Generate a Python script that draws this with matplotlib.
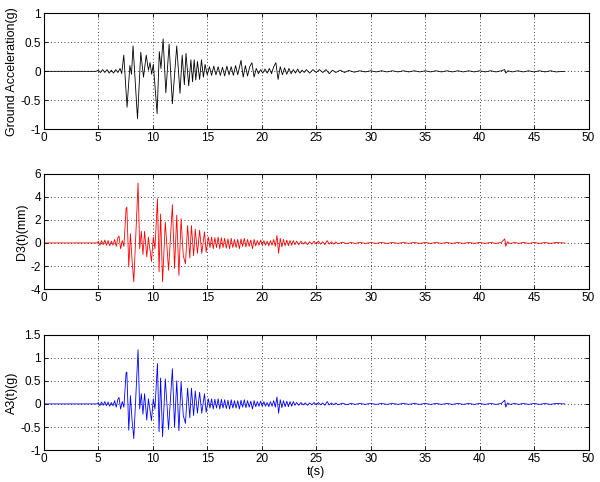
import numpy as np
import matplotlib.pyplot as plt

plt.rcParams['font.family'] = ['Liberation Sans', 'DejaVu Sans']

# peaks: (time s, value)
ground_peaks = [
    (0, 0), (4.8, 0), (5.0, 0.02), (5.2, -0.02), (5.4, 0.03), (5.6, -0.02),
    (5.8, 0.03), (6.0, -0.03), (6.2, 0.02), (6.4, -0.03), (6.6, 0.03),
    (6.8, -0.02), (7.0, 0.05), (7.15, -0.04), (7.34, 0.28), (7.64, -0.62),
    (7.9, 0.1), (8.05, -0.05), (8.19, 0.44), (8.6, -0.82), (8.9, 0.33),
    (9.15, -0.1), (9.4, 0.28), (9.6, 0.02), (9.75, 0.15), (9.9, -0.05),
    (10.05, 0.12), (10.4, -0.73), (10.6, 0.34), (10.75, 0.05), (10.95, 0.56),
    (11.2, -0.37), (11.5, 0.47), (11.8, -0.56), (12.2, 0.44), (12.5, -0.38),
    (12.7, 0.28), (12.9, -0.23), (13.05, 0.31), (13.3, -0.25), (13.5, 0.2),
    (13.65, -0.18), (13.8, 0.2), (13.95, -0.15), (14.1, 0.17), (14.3, -0.14),
    (14.47, 0.2), (14.65, -0.1), (14.8, 0.12), (15.0, -0.06), (15.2, 0.08),
    (15.4, -0.07), (15.6, 0.09), (15.8, -0.06), (16.0, 0.08), (16.2, -0.07),
    (16.4, 0.07), (16.6, -0.08), (16.8, 0.09), (17.0, -0.06), (17.2, 0.08),
    (17.4, -0.07), (17.6, 0.1), (17.8, -0.06), (18.1, 0.19), (18.3, -0.1),
    (18.5, 0.1), (18.7, -0.08), (18.9, 0.08), (19.1, 0.15), (19.3, -0.1),
    (19.5, 0.05), (19.7, -0.04), (19.9, 0.03), (20.1, -0.03), (20.3, 0.04),
    (20.5, -0.03), (20.7, 0.05), (20.9, -0.04), (21.1, 0.08), (21.3, 0.15),
    (21.5, -0.14), (21.7, 0.08), (21.9, -0.06), (22.1, 0.06), (22.3, -0.05),
    (22.5, 0.05), (22.7, -0.04), (22.9, 0.03), (23.1, -0.03), (23.3, 0.04),
    (23.5, -0.03), (23.7, 0.02), (23.9, -0.02), (24.1, 0.03), (24.4, -0.03),
    (24.7, 0.03), (25.0, -0.02), (25.3, 0.03), (25.6, -0.02), (25.9, 0.03),
    (26.2, -0.04), (26.5, 0.02), (26.8, -0.02), (27.2, 0.02), (27.6, -0.02),
    (28.0, 0.015), (28.5, -0.015), (29.0, 0.01), (29.5, -0.01), (30.0, 0.01),
    (30.5, -0.01), (31.0, 0.01), (31.5, -0.01), (32.0, 0.01), (32.5, -0.01),
    (33.0, 0.01), (33.5, -0.01), (34.0, 0.01), (34.5, -0.01), (35.0, 0.01),
    (35.5, -0.01), (36.0, 0.01), (36.5, -0.01), (37.0, 0.01), (37.5, -0.01),
    (38.0, 0.01), (38.5, -0.01), (39.0, 0.01), (39.5, -0.01), (40.0, 0.01),
    (40.5, -0.01), (41.0, 0.01), (41.5, -0.01), (42.0, 0.01), (42.3, 0.03),
    (42.4, -0.03), (42.6, 0.01), (43.0, -0.01), (43.5, 0.01), (44.0, -0.01),
    (44.5, 0.01), (45.0, -0.01), (45.5, 0.01), (46.0, -0.01), (46.5, 0.01),
    (47.0, -0.01), (47.8, 0),
]

d3_peaks = [
    (0, 0), (4.9, 0), (5.0, 0.15), (5.15, -0.2), (5.3, 0.2), (5.45, -0.15),
    (5.6, 0.25), (5.75, -0.2), (5.9, 0.2), (6.05, -0.25), (6.2, 0.15),
    (6.35, -0.2), (6.5, 0.3), (6.65, -0.3), (6.8, 0.45), (6.9, 0.6),
    (7.05, -0.5), (7.2, 0.2), (7.35, -0.3), (7.55, 2.96), (7.62, 3.1),
    (7.8, -2.07), (7.95, 0.8), (8.1, -1.5), (8.26, -3.36), (8.45, 0.9),
    (8.65, 5.17), (8.8, -0.5), (8.95, 1.0), (9.1, -1.0), (9.25, 1.0),
    (9.45, -1.2), (9.6, 0.5), (9.75, -0.6), (9.88, -1.6), (10.05, 0.5),
    (10.2, -0.5), (10.43, 3.82), (10.58, -2.5), (10.72, 2.5), (10.9, -3.36),
    (11.15, 1.8), (11.45, -2.36), (11.8, 3.3), (12.0, -2.2), (12.2, 2.4),
    (12.4, -2.8), (12.6, 2.1), (12.8, -1.1), (13.0, -1.8), (13.2, 1.5),
    (13.4, -1.3), (13.55, 1.5), (13.75, -1.1), (13.9, 1.2), (14.1, -0.9),
    (14.3, 1.1), (14.5, -0.9), (14.75, 0.95), (14.9, -0.8), (15.1, 0.5),
    (15.25, -0.4), (15.4, 0.5), (15.55, -0.5), (15.7, 0.45), (15.85, -0.4),
    (16.0, 0.5), (16.15, -0.5), (16.3, 0.45), (16.45, -0.4), (16.6, 0.4),
    (16.75, -0.45), (16.9, 0.35), (17.05, -0.5), (17.2, 0.4), (17.35, -0.4),
    (17.5, 0.3), (17.65, -0.4), (17.8, 0.3), (17.95, -0.5), (18.1, 0.35),
    (18.25, -0.3), (18.4, 0.4), (18.55, -0.35), (18.7, 0.3), (18.85, -0.3),
    (19.0, 0.25), (19.15, -0.5), (19.3, 0.3), (19.45, -0.25), (19.6, 0.2),
    (19.75, -0.2), (19.9, 0.25), (20.05, -0.2), (20.2, 0.2), (20.35, -0.2),
    (20.5, 0.15), (20.65, -0.25), (20.8, 0.2), (20.95, -0.2), (21.1, 0.3),
    (21.25, -0.3), (21.4, 0.65), (21.55, -0.9), (21.7, 0.4), (21.85, -0.35),
    (22.0, 0.3), (22.15, -0.25), (22.3, 0.25), (22.45, -0.25), (22.6, 0.2),
    (22.75, -0.2), (22.9, 0.2), (23.05, -0.15), (23.2, 0.15), (23.4, -0.15),
    (23.6, 0.15), (23.8, -0.1), (24.0, 0.1), (24.2, -0.15), (24.4, 0.1),
    (24.6, -0.1), (24.8, 0.15), (25.0, -0.1), (25.2, 0.15), (25.4, -0.1),
    (25.6, 0.1), (25.8, -0.15), (26.0, 0.2), (26.2, -0.1), (26.4, 0.1),
    (26.6, -0.1), (26.8, 0.08), (27.0, -0.08), (27.4, 0.06), (27.8, -0.06),
    (28.2, 0.05), (28.6, -0.05), (29.0, 0.05), (29.5, -0.04), (30.0, 0.04),
    (30.5, -0.04), (31.0, 0.04), (31.5, -0.04), (32.0, 0.04), (32.5, -0.04),
    (33.0, 0.04), (33.5, -0.04), (34.0, 0.04), (34.5, -0.04), (35.0, 0.04),
    (35.5, -0.04), (36.0, 0.04), (36.5, -0.04), (37.0, 0.04), (37.5, -0.04),
    (38.0, 0.04), (38.5, -0.04), (39.0, 0.04), (39.5, -0.04), (40.0, 0.04),
    (40.5, -0.04), (41.0, 0.04), (41.5, -0.04), (42.0, 0.05), (42.3, 0.35),
    (42.4, -0.3), (42.55, 0.1), (42.8, -0.05), (43.2, 0.04), (43.6, -0.04),
    (44.0, 0.04), (44.5, -0.04), (45.0, 0.04), (45.5, -0.04), (46.0, 0.04),
    (46.5, -0.04), (47.0, 0.03), (47.8, 0),
]

a3_peaks = [
    (0, 0), (4.9, 0), (5.0, 0.03), (5.15, -0.04), (5.3, 0.04), (5.45, -0.03),
    (5.6, 0.05), (5.75, -0.04), (5.9, 0.04), (6.05, -0.05), (6.2, 0.03),
    (6.35, -0.04), (6.5, 0.07), (6.65, -0.07), (6.8, 0.1), (6.9, 0.14),
    (7.05, -0.11), (7.2, 0.05), (7.35, -0.07), (7.55, 0.67), (7.62, 0.69),
    (7.8, -0.57), (7.95, 0.18), (8.1, -0.35), (8.26, -0.75), (8.45, 0.2),
    (8.65, 1.17), (8.8, -0.11), (8.95, 0.22), (9.1, -0.22), (9.25, 0.22),
    (9.45, -0.35), (9.6, 0.11), (9.75, -0.14), (9.88, -0.36), (10.05, 0.11),
    (10.2, -0.11), (10.43, 0.87), (10.58, -0.6), (10.72, 0.56), (10.9, -0.71),
    (11.15, 0.54), (11.45, -0.55), (11.8, 0.76), (12.0, -0.5), (12.2, 0.5),
    (12.4, -0.58), (12.6, 0.48), (12.8, -0.25), (13.0, -0.42), (13.2, 0.34),
    (13.4, -0.3), (13.55, 0.34), (13.75, -0.25), (13.9, 0.28), (14.1, -0.2),
    (14.3, 0.25), (14.5, -0.2), (14.75, 0.22), (14.9, -0.18), (15.1, 0.11),
    (15.25, -0.09), (15.4, 0.11), (15.55, -0.11), (15.7, 0.1), (15.85, -0.09),
    (16.0, 0.11), (16.15, -0.11), (16.3, 0.1), (16.45, -0.09), (16.6, 0.09),
    (16.75, -0.1), (16.9, 0.08), (17.05, -0.11), (17.2, 0.09), (17.35, -0.09),
    (17.5, 0.07), (17.65, -0.09), (17.8, 0.07), (17.95, -0.11), (18.1, 0.08),
    (18.25, -0.07), (18.4, 0.09), (18.55, -0.08), (18.7, 0.07), (18.85, -0.07),
    (19.0, 0.06), (19.15, -0.11), (19.3, 0.07), (19.45, -0.06), (19.6, 0.05),
    (19.75, -0.05), (19.9, 0.06), (20.05, -0.05), (20.2, 0.05), (20.35, -0.05),
    (20.5, 0.03), (20.65, -0.06), (20.8, 0.05), (20.95, -0.05), (21.1, 0.07),
    (21.25, -0.07), (21.4, 0.15), (21.55, -0.2), (21.7, 0.09), (21.85, -0.08),
    (22.0, 0.07), (22.15, -0.06), (22.3, 0.06), (22.45, -0.06), (22.6, 0.05),
    (22.75, -0.05), (22.9, 0.05), (23.05, -0.03), (23.2, 0.03), (23.4, -0.03),
    (23.6, 0.03), (23.8, -0.02), (24.0, 0.02), (24.2, -0.03), (24.4, 0.02),
    (24.6, -0.02), (24.8, 0.03), (25.0, -0.02), (25.2, 0.03), (25.4, -0.02),
    (25.6, 0.02), (25.8, -0.03), (26.0, 0.05), (26.2, -0.02), (26.4, 0.02),
    (26.6, -0.02), (26.8, 0.02), (27.0, -0.02), (27.4, 0.015), (27.8, -0.015),
    (28.2, 0.01), (28.6, -0.01), (29.0, 0.01), (29.5, -0.01), (30.0, 0.01),
    (30.5, -0.01), (31.0, 0.01), (31.5, -0.01), (32.0, 0.01), (32.5, -0.01),
    (33.0, 0.01), (33.5, -0.01), (34.0, 0.01), (34.5, -0.01), (35.0, 0.01),
    (35.5, -0.01), (36.0, 0.01), (36.5, -0.01), (37.0, 0.01), (37.5, -0.01),
    (38.0, 0.01), (38.5, -0.01), (39.0, 0.01), (39.5, -0.01), (40.0, 0.01),
    (40.5, -0.01), (41.0, 0.01), (41.5, -0.01), (42.0, 0.01), (42.3, 0.08),
    (42.4, -0.07), (42.55, 0.02), (42.8, -0.01), (43.2, 0.01), (43.6, -0.01),
    (44.0, 0.01), (44.5, -0.01), (45.0, 0.01), (45.5, -0.01), (46.0, 0.01),
    (46.5, -0.01), (47.0, 0.01), (47.8, 0),
]

ylabels = ['Ground Acceleration(g)', 'D3(t)(mm)', 'A3(t)(g)']
colors = ['k', 'r', 'b']
ylims = [(-1, 1), (-4, 6), (-1, 1.5)]
yticks = [[-1, -0.5, 0, 0.5, 1], [-4, -2, 0, 2, 4, 6],
          [-1, -0.5, 0, 0.5, 1, 1.5]]
xticks = list(range(0, 55, 5))

fig = plt.figure(figsize=(6, 4.82), dpi=100)
bottoms = [0.732, 0.400, 0.066]
series = [ground_peaks, d3_peaks, a3_peaks]

for i in range(3):
    ax = fig.add_axes([0.073, bottoms[i], 0.908, 0.240])
    data = np.array(series[i])
    ax.plot(data[:, 0], data[:, 1], color=colors[i], lw=0.6)
    ax.set_xlim(0, 50)
    ax.set_ylim(*ylims[i])
    ax.set_xticks(xticks)
    ax.set_yticks(yticks[i])
    ax.set_yticklabels(['%g' % v for v in yticks[i]])
    ax.grid(True, color='k', linestyle=(0, (1, 3)), linewidth=0.6)
    ax.tick_params(direction='in', top=True, right=True, labelsize=8.5,
                   length=3, width=0.6, pad=2)
    for s in ax.spines.values():
        s.set_linewidth(0.8)
    ax.set_ylabel(ylabels[i], fontsize=9, labelpad=2)
    if i == 2:
        ax.set_xlabel('t(s)', fontsize=9, labelpad=1)

fig.savefig('out.png', dpi=100)
